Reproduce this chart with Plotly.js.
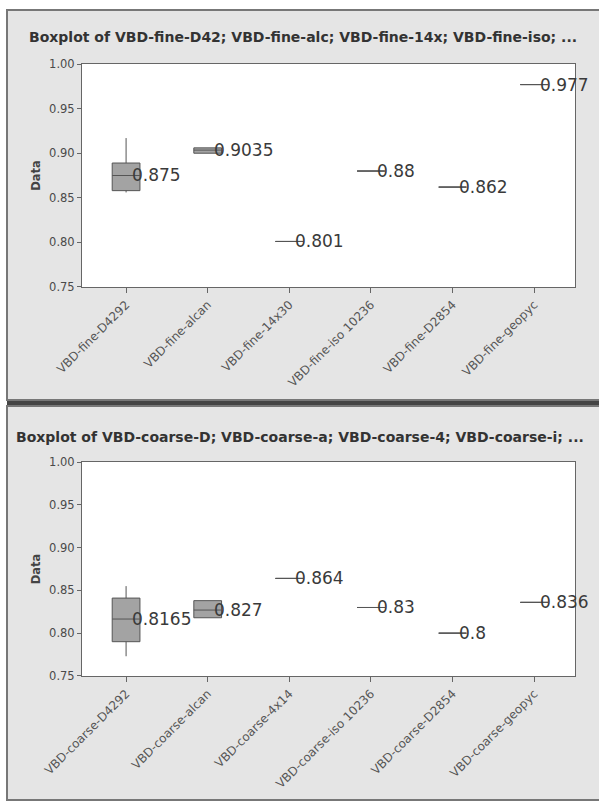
<!DOCTYPE html>
<html><head><meta charset="utf-8">
<script src="https://cdn.plot.ly/plotly-3.0.1.min.js"></script>
<style>html,body{margin:0;padding:0;background:#fff;}#chart{width:599px;height:804px;}</style>
</head><body><div id="chart"></div>
<script>
// ---- data ----
const fineTitle = "Boxplot of VBD-fine-D42; VBD-fine-alc; VBD-fine-14x; VBD-fine-iso; ...";
const fineCategories = ["VBD-fine-D4292", "VBD-fine-alcan", "VBD-fine-14x30", "VBD-fine-iso 10236", "VBD-fine-D2854", "VBD-fine-geopyc"];
const fineMin    = [0.856, 0.900, 0.801, 0.880, 0.862, 0.977];
const fineQ1     = [0.858, 0.900, 0.801, 0.880, 0.862, 0.977];
const fineMedian = [0.875, 0.9035, 0.801, 0.88, 0.862, 0.977];
const fineQ3     = [0.889, 0.906, 0.801, 0.880, 0.862, 0.977];
const fineMax    = [0.917, 0.906, 0.801, 0.880, 0.862, 0.977];

const coarseTitle = "Boxplot of VBD-coarse-D; VBD-coarse-a; VBD-coarse-4; VBD-coarse-i; ...";
const coarseCategories = ["VBD-coarse-D4292", "VBD-coarse-alcan", "VBD-coarse-4x14", "VBD-coarse-iso 10236", "VBD-coarse-D2854", "VBD-coarse-geopyc"];
const coarseMin    = [0.773, 0.818, 0.864, 0.830, 0.800, 0.836];
const coarseQ1     = [0.790, 0.818, 0.864, 0.830, 0.800, 0.836];
const coarseMedian = [0.8165, 0.827, 0.864, 0.83, 0.8, 0.836];
const coarseQ3     = [0.841, 0.838, 0.864, 0.830, 0.800, 0.836];
const coarseMax    = [0.855, 0.838, 0.864, 0.830, 0.800, 0.836];

const yTitle = "Data";

// ---- layout helpers (pixel -> paper) ----
const W = 599, H = 804;
const px = x => x / W;
const py = y => 1 - y / H;

const FONT = "DejaVu Sans";

function boxTrace(cats, mn, q1, med, q3, mx, xa, ya) {
  return {
    type: "box", x: cats, lowerfence: mn, q1: q1, median: med, q3: q3, upperfence: mx,
    xaxis: xa, yaxis: ya, boxpoints: false, whiskerwidth: 0, width: 0.34,
    fillcolor: "#a3a3a3", line: {color: "#555", width: 1}, showlegend: false, hoverinfo: "skip"
  };
}

function xAxis(cats, dom, anchor) {
  return {
    domain: dom, anchor: anchor, type: "category", categoryorder: "array", categoryarray: cats,
    range: [-0.54, 5.5], showline: true, mirror: true, linecolor: "#666", linewidth: 1,
    ticks: "outside", ticklen: 5, tickcolor: "#666", tickangle: -45,
    tickfont: {family: FONT, size: 12, color: "#555"}, showgrid: false, zeroline: false, fixedrange: true
  };
}
function yAxis(dom, anchor) {
  return {
    domain: dom, anchor: anchor, range: [0.7499, 1.0001], tick0: 0.75, dtick: 0.05, tickformat: ".2f",
    showline: true, mirror: true, linecolor: "#666", linewidth: 1,
    ticks: "outside", ticklen: 4, tickcolor: "#666",
    tickfont: {family: FONT, size: 11.5, color: "#4a4a4a"}, showgrid: false, zeroline: false, fixedrange: true,
    title: {text: yTitle, font: {family: FONT, size: 11.5, color: "#444", weight: "bold"}, standoff: 6}
  };
}

function valueLabels(cats, med, xr, yr) {
  return cats.map((c, i) => ({
    x: c, y: med[i], xref: xr, yref: yr, text: String(med[i]), showarrow: false,
    xanchor: "left", yanchor: "middle", xshift: 4,
    font: {family: FONT, size: 17, color: "#3a3a3a"}
  }));
}

const data = [
  boxTrace(fineCategories, fineMin, fineQ1, fineMedian, fineQ3, fineMax, "x", "y"),
  boxTrace(coarseCategories, coarseMin, coarseQ1, coarseMedian, coarseQ3, coarseMax, "x2", "y2")
];

const shapes = [
  // panel backgrounds
  {type: "rect", xref: "paper", yref: "paper", x0: px(7), x1: px(600), y0: py(400), y1: py(10),
   fillcolor: "#e5e5e5", line: {color: "#777", width: 2}, layer: "below"},
  {type: "rect", xref: "paper", yref: "paper", x0: px(7), x1: px(600), y0: py(800), y1: py(406),
   fillcolor: "#e5e5e5", line: {color: "#777", width: 2}, layer: "below"},
  {type: "line", xref: "paper", yref: "paper", x0: px(7), x1: px(600), y0: py(403), y1: py(403),
   line: {color: "#444", width: 4}, layer: "below"},
  // white plot areas
  {type: "rect", xref: "paper", yref: "paper", x0: px(82), x1: px(575), y0: py(287), y1: py(64),
   fillcolor: "#ffffff", line: {width: 0}, layer: "below"},
  {type: "rect", xref: "paper", yref: "paper", x0: px(82), x1: px(575), y0: py(676), y1: py(462),
   fillcolor: "#ffffff", line: {width: 0}, layer: "below"}
];

const annotations = [
  {x: px(303), y: py(37), xref: "paper", yref: "paper", text: fineTitle, showarrow: false,
   xanchor: "center", yanchor: "middle", font: {family: FONT, size: 14, color: "#333", weight: "bold"}},
  {x: px(300), y: py(437), xref: "paper", yref: "paper", text: coarseTitle, showarrow: false,
   xanchor: "center", yanchor: "middle", font: {family: FONT, size: 14, color: "#333", weight: "bold"}}
].concat(valueLabels(fineCategories, fineMedian, "x", "y"))
 .concat(valueLabels(coarseCategories, coarseMedian, "x2", "y2"));

const layout = {
  width: W, height: H, margin: {l: 0, r: 0, t: 0, b: 0},
  paper_bgcolor: "#ffffff", plot_bgcolor: "rgba(0,0,0,0)",
  showlegend: false,
  xaxis: xAxis(fineCategories, [px(82), px(575)], "y"),
  yaxis: yAxis([py(287), py(64)], "x"),
  xaxis2: xAxis(coarseCategories, [px(82), px(575)], "y2"),
  yaxis2: yAxis([py(676), py(462)], "x2"),
  shapes: shapes, annotations: annotations
};

Plotly.newPlot("chart", data, layout, {staticPlot: true, displayModeBar: false});
</script></body></html>
